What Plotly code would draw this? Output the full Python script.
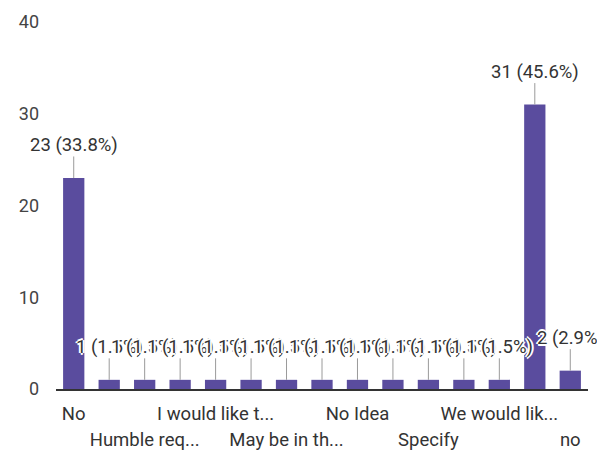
import plotly.graph_objects as go

# ---- data ----
counts = [23, 1, 1, 1, 1, 1, 1, 1, 1, 1, 1, 1, 1, 31, 2]
percents = ["33.8%", "1.5%", "1.5%", "1.5%", "1.5%", "1.5%", "1.5%", "1.5%",
            "1.5%", "1.5%", "1.5%", "1.5%", "1.5%", "45.6%", "2.9%"]
# visible category labels (every other category is shown, alternating rows)
row1_labels = {0: "No", 4: "I would like t...", 8: "No Idea", 12: "We would lik..."}
row2_labels = {2: "Humble req...", 6: "May be in th...", 10: "Specify", 14: "no"}
y_ticks = [0, 10, 20, 30, 40]

positions = list(range(len(counts)))
BAR = "#5a4c9e"
FONT = "Roboto"
HALO = ("white 1px 0px 0px, white -1px 0px 0px, white 0px 1px 0px, white 0px -1px 0px, "
        "white 2px 0px 0px, white -2px 0px 0px, white 0px 2px 0px, white 0px -2px 0px")

fig = go.Figure()
fig.add_trace(go.Bar(x=positions, y=counts, marker=dict(color=BAR, line=dict(width=0)),
                     width=0.6, hoverinfo="skip"))
# invisible trace to activate the second x axis (second label row)
fig.add_trace(go.Scatter(x=positions, y=[None] * len(positions), xaxis="x2",
                         mode="markers", showlegend=False, hoverinfo="skip"))

for xi, (c, p) in enumerate(zip(counts, percents)):
    fig.add_annotation(x=xi, y=c, xref="x", yref="y", text=f"{c} ({p})",
                       showarrow=True, arrowhead=0, arrowwidth=1, arrowcolor="#9a9a9a",
                       ax=0, ay=-33, borderpad=0,
                       font=dict(family=FONT, size=18.5, color="#333333", shadow=HALO))

fig.update_layout(
    width=597, height=453, autosize=False,
    margin=dict(l=56, r=9, t=22, b=64),
    paper_bgcolor="white", plot_bgcolor="white",
    showlegend=False,
    font=dict(family=FONT, size=18, color="#444444"),
    xaxis=dict(range=[-0.5, len(counts) - 0.5], automargin=False,
               tickmode="array", tickvals=list(row1_labels.keys()),
               ticktext=list(row1_labels.values()),
               showgrid=False, zeroline=False, showline=True,
               linecolor="#333333", linewidth=2, ticks="",
               ticklabelstandoff=7,
               tickfont=dict(family=FONT, size=18.5, color="#333333")),
    xaxis2=dict(range=[-0.5, len(counts) - 0.5], overlaying="x", anchor="y", side="bottom",
                automargin=False,
                tickmode="array", tickvals=list(row2_labels.keys()),
                ticktext=list(row2_labels.values()),
                showgrid=False, zeroline=False, showline=False, ticks="",
                ticklabelstandoff=37,
                tickfont=dict(family=FONT, size=18.5, color="#333333")),
    yaxis=dict(range=[0, 40], tickmode="array", tickvals=y_ticks, automargin=False,
               showgrid=False, zeroline=False, showline=False, ticks="",
               ticklabelstandoff=16,
               tickfont=dict(family=FONT, size=18, color="#444444")),
)

fig.write_html("out.html", config={"displayModeBar": False},
               post_script="document.body.style.margin='0';document.body.style.overflow='hidden';")
